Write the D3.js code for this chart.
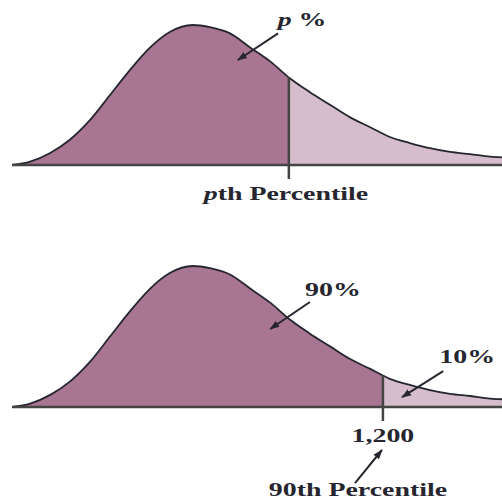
<!DOCTYPE html>
<html><head><meta charset="utf-8">
<script src="https://cdn.jsdelivr.net/npm/d3@7"></script>
<style>html,body{margin:0;padding:0;background:#fff;overflow:hidden}</style>
</head><body>
<svg id="c" width="502" height="501"></svg>
<script>
// Curve samples (x in arbitrary units, density relative to peak)
const curveX = [0, 0.37, 0.78, 1.18, 1.59, 2.0, 2.41, 2.82, 3.22, 3.69, 4.04, 4.45, 4.86, 5.27, 5.67, 6.08, 6.49, 6.90, 7.31, 7.71, 8.12, 8.53, 8.94, 9.35, 9.76, 10];
const curveY = [0, 0.024, 0.086, 0.18, 0.32, 0.50, 0.68, 0.84, 0.95, 1.0, 0.985, 0.94, 0.84, 0.74, 0.62, 0.52, 0.43, 0.34, 0.27, 0.20, 0.157, 0.12, 0.093, 0.078, 0.06, 0.055];
// Panels
const panelNames = ["top", "bottom"];
const percentileX = [5.65, 7.57];
const percentileLabels = [["p", "th Percentile"], ["", "1,200"]];
const percentileLabelX = [5.59, 7.57];
const labelY = [-0.25, -0.25];
// annotations: [text parts, textX, textY, tailX, tailY, tipX, tipY, panel]
const annotations = [
  [["p", " %"], 5.92, 0.99, 5.43, 0.94, 4.61, 0.75, 0],
  [["", "90%"], 6.55, 0.79, 6.08, 0.745, 5.27, 0.553, 1],
  [["", "10%"], 9.29, 0.31, 8.80, 0.255, 7.96, 0.07, 1],
  [["", "90th Percentile"], 7.06, -0.632, null, null, null, null, 1],
  [["", ""], 0, 0, 7.0, -0.54, 7.55, -0.305, 1]
];

const svg = d3.select("#c");
const W = 502;
const x = d3.scaleLinear().domain([0, 10]).range([12, 502]);
const yScales = [
  d3.scaleLinear().domain([0, 1]).range([165, 25]),
  d3.scaleLinear().domain([0, 1]).range([407, 266])
];
const dark = "#a87592", light = "#d5bdcc", ink = "#262630";
const FONT = "'Liberation Serif', 'Times New Roman', serif";
const pts = curveX.map((v, i) => [v, curveY[i]]);

const defs = svg.append("defs");
defs.append("marker").attr("id", "ah").attr("viewBox", "0 0 10 10")
  .attr("refX", 9).attr("refY", 5).attr("markerWidth", 5).attr("markerHeight", 5)
  .attr("orient", "auto").append("path").attr("d", "M0,1.5 L10,5 L0,8.5 Z").attr("fill", ink);

function addText(sel, parts, tx, ty) {
  const t = sel.append("text").attr("text-anchor", "middle")
    .attr("transform", `translate(${tx},${ty}) scale(1.55,1)`)
    .attr("font-family", FONT).attr("font-weight", "bold")
    .attr("font-size", 18).attr("fill", ink);
  if (parts[0]) t.append("tspan").attr("font-style", "italic").text(parts[0]);
  t.append("tspan").text(parts[1]);
}

yScales.forEach((y, k) => {
  const g = svg.append("g");
  const px = x(percentileX[k]);
  const area = d3.area().x(d => x(d[0])).y0(y(0)).y1(d => y(d[1])).curve(d3.curveMonotoneX);
  const line = d3.line().x(d => x(d[0])).y(d => y(d[1])).curve(d3.curveMonotoneX);
  defs.append("clipPath").attr("id", "L" + k).append("rect").attr("x", 0).attr("y", 0).attr("width", px).attr("height", 501);
  defs.append("clipPath").attr("id", "R" + k).append("rect").attr("x", px).attr("y", 0).attr("width", W - px).attr("height", 501);
  g.append("path").attr("d", area(pts)).attr("fill", dark).attr("clip-path", `url(#L${k})`);
  g.append("path").attr("d", area(pts)).attr("fill", light).attr("clip-path", `url(#R${k})`);
  const cp = g.append("path").attr("d", line(pts)).attr("fill", "none").attr("stroke", ink).attr("stroke-width", 1.8);
  const node = cp.node(), len = node.getTotalLength();
  let lo = 0, hi = len;
  for (let i = 0; i < 40; i++) { const m = (lo + hi) / 2; if (node.getPointAtLength(m).x < px) lo = m; else hi = m; }
  const topY = node.getPointAtLength(lo).y;
  g.append("line").attr("x1", x(0)).attr("x2", W).attr("y1", y(0)).attr("y2", y(0)).attr("stroke", "#444").attr("stroke-width", 2.5);
  g.append("line").attr("x1", px).attr("x2", px).attr("y1", topY).attr("y2", y(0) + 14).attr("stroke", "#444").attr("stroke-width", 2.5);
  addText(g, percentileLabels[k], x(percentileLabelX[k]), y(labelY[k]));
});

annotations.forEach(a => {
  const y = yScales[a[7]];
  if (a[0][0] || a[0][1]) addText(svg, a[0], x(a[1]), y(a[2]));
  if (a[3] !== null) {
    svg.append("line").attr("x1", x(a[3])).attr("y1", y(a[4])).attr("x2", x(a[5])).attr("y2", y(a[6]))
      .attr("stroke", ink).attr("stroke-width", 2).attr("marker-end", "url(#ah)");
  }
});
</script>
</body></html>
